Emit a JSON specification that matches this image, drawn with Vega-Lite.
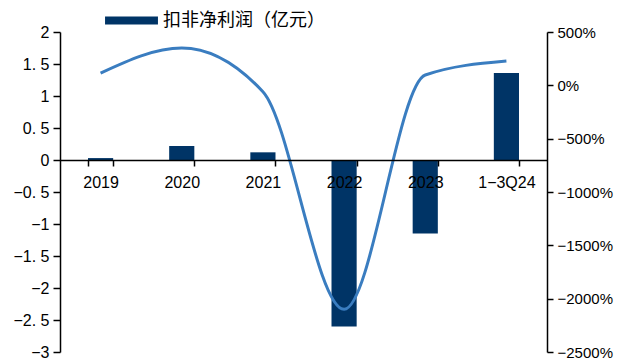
{
  "$schema": "https://vega.github.io/schema/vega-lite/v6.json",
  "autosize": "none",
  "width": 487,
  "height": 320,
  "padding": {"left": 60, "top": 32, "right": 70, "bottom": 7},
  "background": "white",
  "config": {
    "view": {"stroke": null},
    "font": "Liberation Sans",
    "axis": {"labelColor": "#000000", "domainColor": "#000000", "tickColor": "#000000", "grid": false, "title": null, "domainWidth": 1.5, "tickWidth": 1.5}
  },
  "data": {
    "values": [
      {"period": "2019", "profit": 0.03, "growth": 115, "series": "扣非净利润（亿元）"},
      {"period": "2020", "profit": 0.22, "growth": 350, "series": "扣非净利润（亿元）"},
      {"period": "2021", "profit": 0.12, "growth": -60, "series": "扣非净利润（亿元）"},
      {"period": "2022", "profit": -2.6, "growth": -2100, "series": "扣非净利润（亿元）"},
      {"period": "2023", "profit": -1.15, "growth": 97, "series": "扣非净利润（亿元）"},
      {"period": "1-3Q24", "profit": 1.36, "growth": 228, "series": "扣非净利润（亿元）"}
    ]
  },
  "encoding": {
    "x": {
      "field": "period",
      "type": "ordinal",
      "sort": null,
      "scale": {"paddingInner": 0.69, "paddingOuter": 0.345},
      "axis": {
        "orient": "bottom",
        "offset": -192,
        "labelAngle": 0,
        "labelFontSize": 16,
        "labelPadding": 8,
        "tickBand": "extent",
        "tickSize": 6,
        "zindex": 1,
        "labelExpr": "replace(datum.label, '-', '−')"
      }
    }
  },
  "layer": [
    {
      "mark": {"type": "bar", "color": "#003466"},
      "encoding": {
        "y": {
          "field": "profit",
          "type": "quantitative",
          "scale": {"domain": [-3, 2], "nice": false},
          "axis": {
            "orient": "left",
            "values": [-3, -2.5, -2, -1.5, -1, -0.5, 0, 0.5, 1, 1.5, 2],
            "labelFontSize": 16,
            "tickSize": 7,
            "labelPadding": 4,
            "labelExpr": "replace(format(datum.value, '~g'), '.', '. ')"
          }
        },
        "color": {
          "field": "series",
          "type": "nominal",
          "scale": {"range": ["#003466"]},
          "legend": {
            "orient": "none",
            "legendX": 45,
            "legendY": -38,
            "title": null,
            "padding": 0,
            "symbolType": "M-1,-0.15H1V0.15H-1Z",
            "symbolSize": 2800,
            "symbolStrokeWidth": 0,
            "labelFont": "Noto Sans CJK SC",
            "labelFontSize": 18,
            "labelLimit": 400,
            "labelColor": "#000000",
            "labelOffset": 5
          }
        }
      }
    },
    {
      "mark": {"type": "line", "color": "#3a7dc0", "strokeWidth": 3, "interpolate": "monotone"},
      "encoding": {
        "y": {
          "field": "growth",
          "type": "quantitative",
          "scale": {"domain": [-2500, 500], "nice": false},
          "axis": {
            "orient": "right",
            "values": [-2500, -2000, -1500, -1000, -500, 0, 500],
            "labelFontSize": 15,
            "tickSize": 6,
            "labelPadding": 4,
            "labelExpr": "format(datum.value, 'd') + '%'"
          }
        }
      }
    }
  ],
  "resolve": {"scale": {"y": "independent"}}
}
